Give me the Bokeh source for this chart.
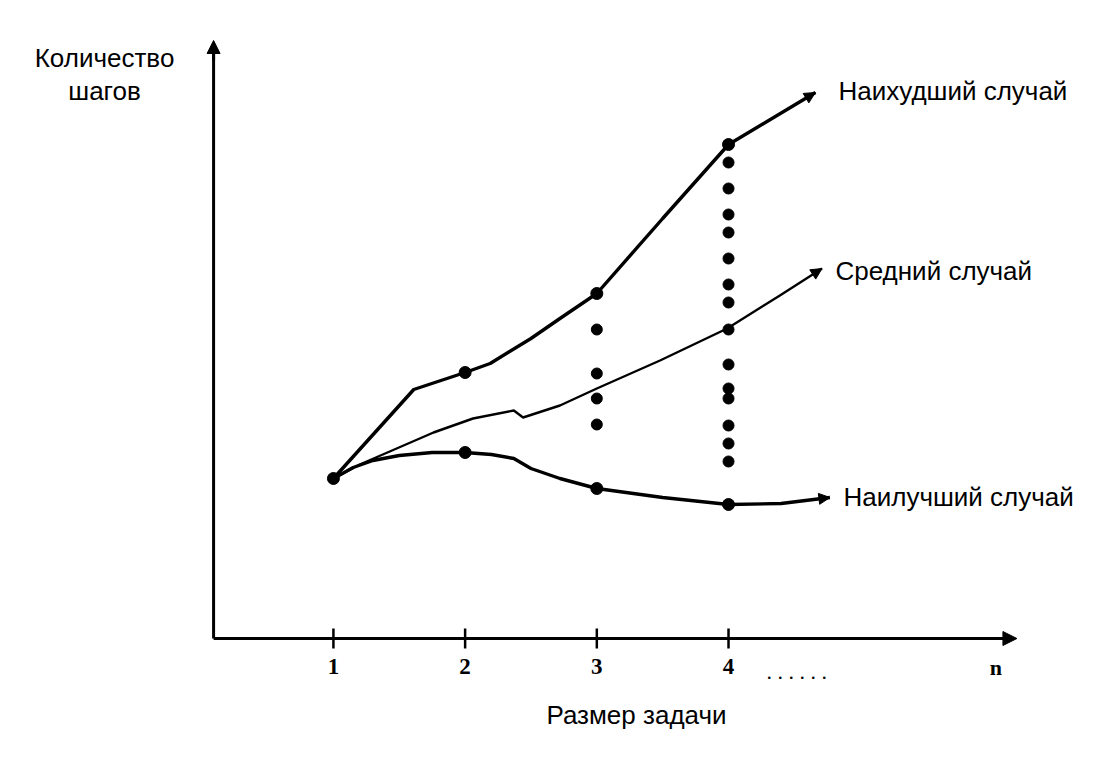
from bokeh.plotting import figure
from bokeh.models import Range1d, Arrow, NormalHead
from bokeh.core.properties import value
from bokeh.embed import file_html
from bokeh.resources import INLINE

# ---- data (problem size vs. number of steps, arbitrary step units) ----
worst_x = [1.0, 1.61, 2.0, 2.19, 2.5, 2.72, 3.0, 3.5, 4.0, 4.66]
worst_y = [16.0, 24.9, 26.6, 27.5, 30.0, 32.0, 34.5, 42.0, 49.4, 54.6]

avg_x = [1.0, 1.2, 1.41, 1.76, 2.06, 2.37, 2.40, 2.44, 2.72, 3.0, 3.48, 3.99, 4.39, 4.71]
avg_y = [16.0, 17.4, 18.6, 20.6, 22.0, 22.8, 22.5, 22.1, 23.3, 25.0, 27.8, 31.0, 34.3, 37.0]

best_x = [1.0, 1.15, 1.3, 1.5, 1.75, 2.0, 2.2, 2.37, 2.5, 2.72, 3.0, 3.5, 4.0, 4.4, 4.77]
best_y = [16.0, 17.1, 17.8, 18.3, 18.6, 18.6, 18.4, 18.0, 17.0, 16.0, 15.0, 14.1, 13.4, 13.5, 14.1]

marker_x = [1, 2, 3, 4, 2, 3, 4]
marker_y = [16.0, 26.6, 34.5, 49.4, 18.6, 15.0, 13.4]

dots3_y = [30.9, 26.5, 24.0, 21.4]
dots4_y = [47.6, 45.0, 42.4, 40.6, 38.0, 35.4, 33.6, 30.9, 27.4, 25.0, 24.0, 21.3, 19.5, 17.7]

tick_values = [1, 2, 3, 4]
tick_labels = ["1", "2", "3", "4"]
n_label_x = 6.03
ellipsis_x = 4.288

curve_labels = ["Наихудший случай", "Средний случай", "Наилучший случай"]
curve_label_x = [4.835, 4.812, 4.873]
curve_label_y = [54.8, 36.8, 14.2]

y_title = ["Количество", "шагов"]
x_title = "Размер задачи"

# axis extents
AX_X0 = 0.09
AX_Y0 = 0.0
AX_XMAX = 6.19
AX_YMAX = 59.8

p = figure(width=1094, height=760, output_backend="svg", toolbar_location=None,
           x_range=Range1d(-1.528, 6.779), y_range=Range1d(-12.2, 63.8),
           min_border=0)
p.axis.visible = False
p.grid.visible = False
p.outline_line_color = None
p.background_fill_color = "white"
p.border_fill_color = "white"

# axes
p.line([AX_X0, AX_X0], [AX_Y0, AX_YMAX - 1.0], line_color="black", line_width=3)
p.line([AX_X0, AX_XMAX - 0.05], [AX_Y0, AX_Y0], line_color="black", line_width=3)
p.add_layout(Arrow(end=NormalHead(size=13, fill_color="black", line_color="black"),
                   x_start=AX_X0, y_start=AX_YMAX - 2, x_end=AX_X0, y_end=AX_YMAX,
                   line_color="black", line_width=3))
p.add_layout(Arrow(end=NormalHead(size=14, fill_color="black", line_color="black"),
                   x_start=AX_XMAX - 0.1, y_start=AX_Y0, x_end=AX_XMAX, y_end=AX_Y0,
                   line_color="black", line_width=3))

# ticks
p.segment(x0=tick_values, y0=[-1.0] * 4, x1=tick_values, y1=[1.0] * 4,
          line_color="black", line_width=2.5)
p.text(x=tick_values, y=[-2.8] * 4, text=tick_labels, text_align="center",
       text_baseline="middle", text_font=value("Liberation Serif"),
       text_font_style="bold", text_font_size="23px", text_color="black")
p.text(x=[n_label_x], y=[-2.9], text=["n"], text_align="center",
       text_baseline="middle", text_font=value("Liberation Serif"),
       text_font_style="bold", text_font_size="22px", text_color="black")
p.text(x=[ellipsis_x], y=[-3.3], text=[". . . . . ."], text_align="left",
       text_baseline="alphabetic", text_font=value("Liberation Serif"),
       text_font_size="22px", text_color="black")

# curves
p.line(worst_x, worst_y, line_color="black", line_width=3.4)
p.line(avg_x, avg_y, line_color="black", line_width=2.4)
p.line(best_x, best_y, line_color="black", line_width=3.4)

for xs, ys in [(worst_x, worst_y), (avg_x, avg_y), (best_x, best_y)]:
    p.add_layout(Arrow(end=NormalHead(size=11, fill_color="black", line_color="black"),
                       x_start=xs[-2], y_start=ys[-2], x_end=xs[-1], y_end=ys[-1],
                       line_color="black", line_width=0.1, line_alpha=0))

# markers on curves
p.scatter(marker_x, marker_y, size=12, color="black")

# vertical dot columns
p.scatter([3] * len(dots3_y), dots3_y, size=11, color="black")
p.scatter([4] * len(dots4_y), dots4_y, size=11, color="black")

# labels
p.text(x=curve_label_x, y=curve_label_y, text=curve_labels, text_align="left",
       text_baseline="middle", text_font=value("Liberation Sans"),
       text_font_size="26px", text_color="black")
p.text(x=[-0.738, -0.738], y=[58.05, 54.8], text=y_title, text_align="center",
       text_baseline="middle", text_font=value("Liberation Sans"),
       text_font_size="26px", text_color="black")
p.text(x=[3.301], y=[-7.6], text=[x_title], text_align="center",
       text_baseline="middle", text_font=value("Liberation Sans"),
       text_font_size="26px", text_color="black")

open("out.html", "w").write(file_html(p, INLINE))
